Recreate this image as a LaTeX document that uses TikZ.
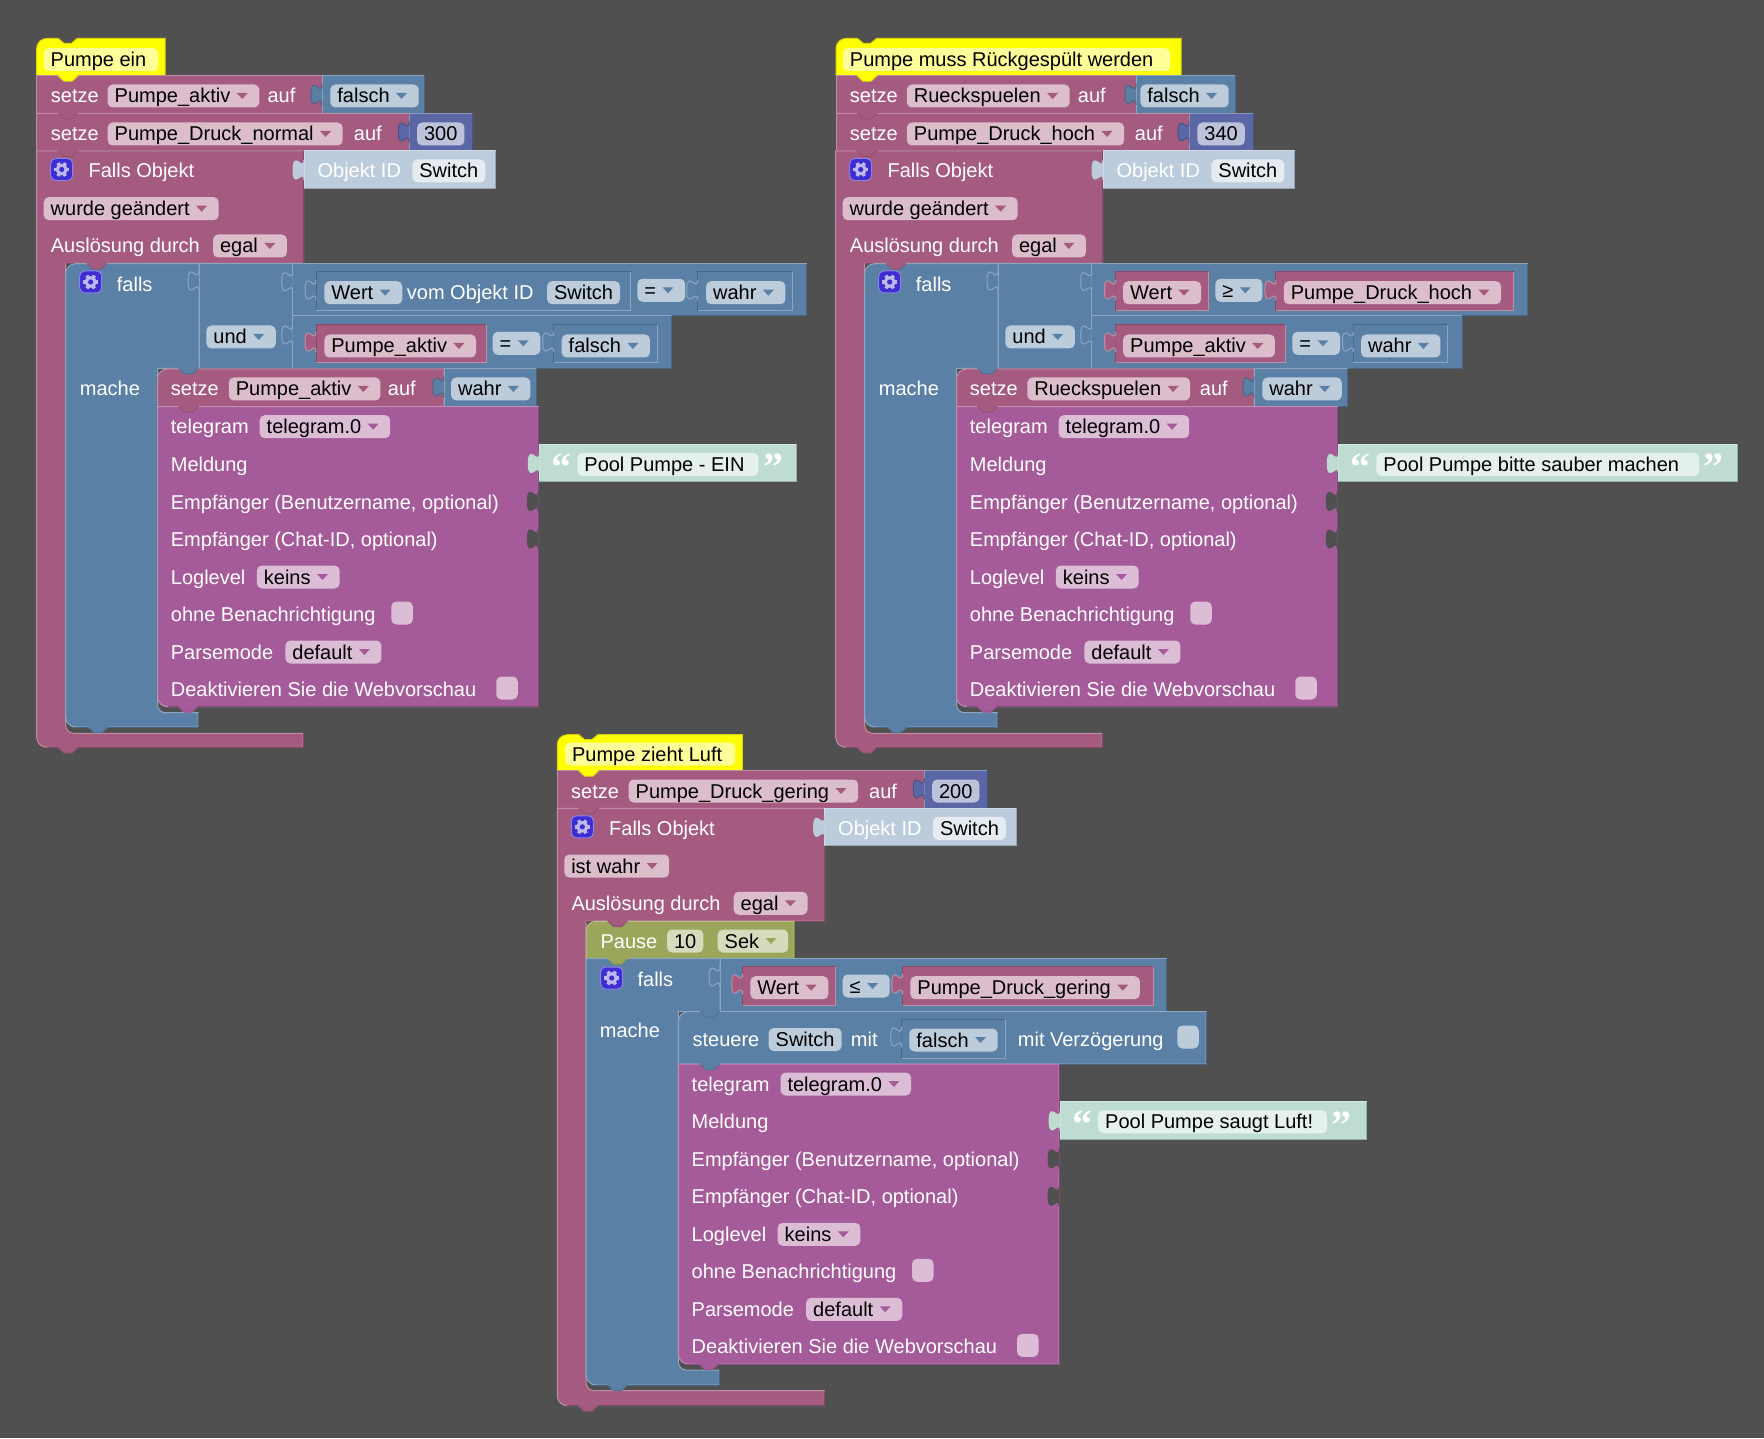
\documentclass[tikz,border=0pt]{standalone}
\usepackage{fontspec}
\setmainfont{Liberation Sans}
\newfontfamily\quotefont{Liberation Serif}
\usetikzlibrary{calc}

\definecolor{bgdark}{HTML}{505050}
\definecolor{blkcrimson}{HTML}{A55B80}
\definecolor{slateb}{HTML}{5B80A5}
\definecolor{numblue}{HTML}{5B67A5}
\definecolor{tele}{HTML}{A55B99}
\definecolor{oliveb}{HTML}{9CA65B}
\definecolor{hatyel}{HTML}{FFFF00}
\definecolor{idblue}{HTML}{BDCCDC}
\definecolor{strgreen}{HTML}{BFDCD1}
\definecolor{gearbox}{HTML}{3D2DD3}
\definecolor{gearcol}{HTML}{BDB9EE}
\definecolor{tippk}{HTML}{A55B80}
\definecolor{tipbl}{HTML}{5B80A5}
\definecolor{tipvi}{HTML}{A55B99}
\definecolor{tipol}{HTML}{9CA65B}

\tikzset{
  fldbase/.style={rounded corners=2.5pt, inner xsep=3.5pt, inner ysep=1pt, minimum height=11.5pt,
    text height=8pt, text depth=1pt, text=black, anchor=west, yshift=-.5pt},
  fldpk/.style={fldbase, fill=blkcrimson!40!white},
  fldbl/.style={fldbase, fill=slateb!40!white},
  fldnu/.style={fldbase, fill=numblue!40!white},
  fldvi/.style={fldbase, fill=tele!40!white},
  fldol/.style={fldbase, fill=oliveb!40!white},
  fldid/.style={fldbase, fill=idblue!40!white},
  fldst/.style={fldbase, fill=strgreen!40!white},
  fldye/.style={fldbase, fill=hatyel!40!white},
  lbl/.style={anchor=west, inner sep=0pt, text height=8pt, text depth=1pt, text=white, yshift=-.5pt, xshift=-.25pt},
  chkbox/.style={minimum width=10.75pt, minimum height=11.5pt, inner sep=0pt, rounded corners=2.5pt},
  quotemark/.style={inner sep=0pt, text=white, font=\quotefont\bfseries\fontsize{20pt}{20pt}\selectfont},
  blockcr/.style={fill=blkcrimson, draw=blkcrimson!70!white, line width=.5pt},
  blockbl/.style={fill=slateb, draw=slateb!70!white, line width=.5pt},
  edgecr/.style={draw=blkcrimson!80!black, line width=.5pt},
  edgebl/.style={draw=slateb!80!black, line width=.5pt}
}

% dropdown field with its small triangle
\newcommand{\ddf}[5]{
  \node[fld#1] (#2) at (#3,#4) {#5\kern11pt};
  \fill[tip#1] ($(#2.east)+(-23,-3)$) -- ++(11,0) -- ++(-5.5,6) -- cycle;
}
\newcommand{\plainf}[5]{\node[fld#1] (#2) at (#3,#4) {#5};}
% plain block with light top and left edge
\newcommand{\blk}[5]{
  \fill[#1] (#2,#3) rectangle (#4,#5);
  \draw[#1!70!white, line width=.5pt] (#2,#5) -- (#2,#3) -- (#4,#3);
  \draw[#1!80!black, line width=.5pt] (#4,#3) -- (#4,#5) -- (#2,#5);
}
% same with round top left corner
\newcommand{\rblk}[5]{
  \draw[fill=#1, draw=#1!70!white, line width=.5pt] (#2,#5) -- (#2,#3+10) arc[start angle=180, end angle=270, radius=10] -- (#4,#3) -- (#4,#5) -- cycle;
  \draw[#1!80!black, line width=.5pt] (#4,#3) -- (#4,#5) -- (#2,#5);
}
% value block sitting in a socket
\newcommand{\inset}[5]{
  \fill[#1] (#2,#3) rectangle (#4,#5);
  \draw[#1!80!black, line width=.5pt] (#2,#5) -- (#2,#3) -- (#4,#3);
  \draw[#1!70!white, line width=.5pt] (#4,#3) -- (#4,#5) -- (#2,#5);
}
\newcommand{\puzz}[4]{
  \path[fill=#1, draw=#2, line width=.5pt] (#3,#4-10.3) .. controls (#3,#4+3.4) and (#3-11,#4-21.3) .. (#3-11,#4)
    .. controls (#3-11,#4+21.3) and (#3,#4-3.4) .. (#3,#4+10.3);
}
\newcommand{\tabd}[3]{
  \fill[#1] (#2,#3-1) -- (#2+6,#3+5.5) -- (#2+14,#3+5.5) -- (#2+20,#3-1) -- cycle;
  \draw[#1!90!black, line width=.5pt] (#2,#3) -- (#2+6,#3+5.5) -- (#2+14,#3+5.5) -- (#2+20,#3);
}
\newcommand{\hatblk}[4]{
  \draw[fill=hatyel, draw=hatyel!85!black, line width=.5pt] (#1,#4) -- (#1,#2+10) arc[start angle=180, end angle=270, radius=10]
    -- (#1+21.5,#2) -- (#1+27.5,#2+5) -- (#1+34.5,#2+5) -- (#1+40.5,#2) -- (#3,#2) -- (#3,#4) -- cycle;
}
\newcommand{\gearicon}[2]{
  \draw[fill=gearbox, draw=gearbox!60!white, line width=.5pt, rounded corners=2.5pt] (#1-11,#2-11) rectangle (#1+11,#2+11);
  \foreach \a in {0,60,...,300} {\draw[gearcol, line width=1.7pt] (#1,#2) -- +(\a:7.5);}
  \fill[gearcol] (#1,#2) circle (5.8);
  \fill[gearbox] (#1,#2) circle (2.6);
}

% head of the object trigger
\newcommand{\fallshead}[1]{
  \blk{idblue}{304}{151}{495.7}{188.5}
  \puzz{idblue}{idblue}{304}{170}
  \gearicon{61.7}{169.5}
  \node[lbl] (fallsobj) at (88.7,170) {Falls Objekt};
  \node[lbl] (objid) at (317.7,170) {Objekt ID};
  \plainf{id}{swid}{412}{170}{Switch}
  \ddf{pk}{event}{43.3}{207.7}{#1}
  \node[lbl] (trig) at (51,245) {Auslösung durch};
  \ddf{pk}{trigval}{212.7}{245}{egal}
}
% telegram block, all rows
\newcommand{\telegramblk}{
  \draw[fill=tele, draw=tele!70!white, line width=.5pt] (157.5,406.7) -- (538.3,406.7) -- (538.3,706.7) -- (167.5,706.7)
    arc[start angle=90, end angle=180, radius=10] -- cycle;
  \draw[tele!80!black, line width=.5pt] (538.3,406.7) -- (538.3,706.7) -- (167.5,706.7);
  \node[lbl] (tg) at (171,425.7) {telegram};
  \ddf{vi}{tginst}{259.3}{425.7}{telegram.0}
  \node[lbl] (msg) at (171,463.5) {Meldung};
  \node[lbl] (userlbl) at (171,501) {Empfänger (Benutzername, optional)};
  \node[lbl] (chatlbl) at (171,538.3) {Empfänger (Chat-ID, optional)};
  \puzz{bgdark}{bgdark}{538.3}{501.5}
  \puzz{bgdark}{bgdark}{538.3}{539}
  \node[lbl] (loglbl) at (171,576) {Loglevel};
  \ddf{vi}{logval}{256.5}{576}{keins}
  \node[lbl] (silentlbl) at (171,613.3) {ohne Benachrichtigung};
  \node[chkbox, fill=tele!40!white] (silentbox) at (402,613) {};
  \node[lbl] (parselbl) at (171,651) {Parsemode};
  \ddf{vi}{parseval}{285}{651}{default}
  \node[lbl] (webviewlbl) at (171,688.3) {Deaktivieren Sie die Webvorschau};
  \node[chkbox, fill=tele!40!white] (webviewbox) at (507,688) {};
  \tabd{tele}{178}{706.7}
}
\newcommand{\strblk}[3]{
  \blk{strgreen}{539.3}{444.3}{#2}{481.7}
  \puzz{strgreen}{strgreen}{539.3}{463.5}
  \node[quotemark] (#1l) at (561.5,467) {“};
  \plainf{st}{#1}{577}{463.5}{#3\kern3.5pt}
  \node[quotemark, anchor=west] (#1r) at ($(#1.east)+(4,3)$) {”};
}
% both top groups share this frame
\newcommand{\pumpframe}[1]{
  \draw[blockcr] (36.7,151) -- (303.7,151) -- (303.7,263.5) -- (65.7,263.5) -- (65.7,725.3) arc[start angle=180, end angle=90, radius=8]
    -- (303.2,733.3) -- (303.2,747.3) -- (46.7,747.3) arc[start angle=90, end angle=180, radius=10] -- cycle;
  \draw[edgecr] (303.7,151) -- (303.7,263.5) -- (65.7,263.5);
  \draw[edgecr] (46.7,747.3) -- (303.2,747.3) -- (303.2,733.3);
  \draw[blockbl] (65.7,273.7) arc[start angle=180, end angle=270, radius=10] -- (199,263.7) -- (199,368.5) -- (157.5,368.5)
    -- (157.5,704.7) arc[start angle=180, end angle=90, radius=8] -- (198.2,712.7) -- (198.2,727) -- (75.7,727)
    arc[start angle=90, end angle=180, radius=10] -- cycle;
  \draw[edgebl] (75.7,727) -- (198.2,727) -- (198.2,712.7);
  \fallshead{#1}
  \gearicon{90.7}{282}
  \node[lbl] (fallslbl) at (117,284) {falls};
  \node[lbl] (machelbl) at (80,388) {mache};
  \blk{slateb}{199}{263.7}{292.7}{368.5}
  \puzz{slateb}{slateb!70!white}{199}{281}
  \ddf{bl}{undop}{206}{336}{und}
  \tabd{blkcrimson}{87}{263.5}
  \tabd{blkcrimson}{58}{747.3}
  \tabd{slateb}{88}{727}
}

\begin{document}
\begin{tikzpicture}[x=.5pt, y=-.5pt]
\useasboundingbox (0,0) rectangle (1764,1438);
\fill[bgdark] (0,0) rectangle (1764,1438);

% Pumpe ein
\begin{scope}[name prefix=a-]
\hatblk{36.7}{38.5}{165}{75.7}
\plainf{ye}{hat}{43.3}{58.7}{Pumpe ein\kern2.5pt}
\blk{blkcrimson}{36.7}{75.7}{322}{113.3}
\blk{slateb}{322}{75.7}{424}{113.3}
\puzz{slateb}{slateb!80!black}{322}{94.5}
\node[lbl] (setze1) at (51,95) {setze};
\ddf{pk}{var1}{107.3}{95}{Pumpe\_aktiv}
\node[lbl] (auf1) at (267.7,95) {auf};
\ddf{bl}{val1}{330}{95}{falsch}
\blk{blkcrimson}{36.7}{113.3}{409.3}{151}
\blk{numblue}{409.3}{113.3}{472}{151}
\puzz{numblue}{numblue!80!black}{409.3}{132}
\node[lbl] (setze2) at (51,133) {setze};
\ddf{pk}{var2}{107.3}{133}{Pumpe\_Druck\_normal}
\node[lbl] (auf2) at (354,133) {auf};
\plainf{nu}{val2}{416.7}{133}{300}
\pumpframe{wurde geändert}

\blk{slateb}{292.7}{263.7}{806.7}{316}
\blk{slateb}{292.7}{316}{671.7}{368.5}
\puzz{slateb}{slateb!70!white}{292.7}{281.7}
\puzz{slateb}{slateb!70!white}{292.7}{335}
\inset{slateb}{316}{271.7}{630.7}{310.7}
\puzz{slateb}{slateb!70!white}{316}{290}
\ddf{bl}{wert}{324}{291.7}{Wert}
\node[lbl] (vomobj) at (407,291.7) {vom Objekt ID};
\plainf{bl}{swa}{546.7}{291.7}{Switch}
\ddf{bl}{eq1}{637}{289.3}{=}
\inset{slateb}{697.7}{271.7}{792.7}{310.7}
\puzz{slateb}{slateb!70!white}{697.7}{290}
\ddf{bl}{wahr1}{705.7}{291.7}{wahr}
\inset{blkcrimson}{316}{325}{486}{363}
\puzz{blkcrimson}{blkcrimson!70!white}{316}{342}
\ddf{pk}{aktiv}{324}{345}{Pumpe\_aktiv}
\ddf{bl}{eq2}{492.3}{342.3}{=}
\inset{slateb}{553.7}{325}{657}{363}
\puzz{slateb}{slateb!70!white}{553.7}{342}
\ddf{bl}{falsch2}{561.3}{345}{falsch}

\rblk{blkcrimson}{157.5}{369}{444}{406.7}
\blk{slateb}{444}{369}{536.3}{406.7}
\puzz{slateb}{slateb!80!black}{444}{387}
\node[lbl] (setze3) at (171,388) {setze};
\ddf{pk}{var3}{228.4}{388}{Pumpe\_aktiv}
\node[lbl] (auf3) at (388,388) {auf};
\ddf{bl}{val3}{450.7}{388}{wahr}
\telegramblk
\strblk{msgein}{796.7}{Pool Pumpe - EIN}
\tabd{slateb}{178.5}{368.5}
\tabd{blkcrimson}{178.5}{406.7}
\tabd{hatyel}{58}{75.7}
\tabd{blkcrimson}{58}{113.3}
\tabd{blkcrimson}{58}{151}
\end{scope}

% Pumpe muss Rückgespült werden
\hatblk{836}{38.5}{1181}{75.7}
\plainf{ye}{hatb}{842.5}{58.7}{Pumpe muss Rückgespült werden\kern5pt}
\blk{blkcrimson}{836}{75.7}{1136}{113.3}
\blk{slateb}{1136}{75.7}{1235}{113.3}
\puzz{slateb}{slateb!80!black}{1136}{94.5}
\node[lbl] (setzeb1) at (850,95) {setze};
\ddf{pk}{varb1}{906.5}{95}{Rueckspuelen}
\node[lbl] (aufb1) at (1078,95) {auf};
\ddf{bl}{valb1}{1140}{95}{falsch}
\blk{blkcrimson}{836}{113.3}{1189}{151}
\blk{numblue}{1189}{113.3}{1253}{151}
\puzz{numblue}{numblue!80!black}{1189}{132}
\node[lbl] (setzeb2) at (850,133) {setze};
\ddf{pk}{varb2}{906.5}{133}{Pumpe\_Druck\_hoch}
\node[lbl] (aufb2) at (1135,133) {auf};
\plainf{nu}{valb2}{1197}{133}{340}
\begin{scope}[shift={(799,0)}, name prefix=b-]
\pumpframe{wurde geändert}
\end{scope}

\blk{slateb}{1091.7}{263.7}{1527.6}{316}
\blk{slateb}{1091.7}{316}{1462}{368.5}
\puzz{slateb}{slateb!70!white}{1091.7}{281.7}
\puzz{slateb}{slateb!70!white}{1091.7}{335}
\inset{blkcrimson}{1115.5}{271.7}{1208.6}{310.7}
\puzz{blkcrimson}{blkcrimson!70!white}{1115.5}{290}
\ddf{pk}{wertb}{1122.8}{291.7}{Wert}
\ddf{bl}{geb}{1215}{289.3}{≥}
\inset{blkcrimson}{1275.9}{271.7}{1513.8}{310.7}
\puzz{blkcrimson}{blkcrimson!70!white}{1275.9}{290}
\ddf{pk}{hochb}{1283.4}{291.7}{Pumpe\_Druck\_hoch}
\inset{blkcrimson}{1115.5}{325}{1285}{363}
\puzz{blkcrimson}{blkcrimson!70!white}{1115.5}{342}
\ddf{pk}{aktivb}{1122.8}{345}{Pumpe\_aktiv}
\ddf{bl}{eqb}{1292}{342.3}{=}
\inset{slateb}{1353.4}{325}{1447.6}{363}
\puzz{slateb}{slateb!70!white}{1353.4}{342}
\ddf{bl}{wahrb}{1360.7}{345}{wahr}

\rblk{blkcrimson}{956.5}{369}{1254}{406.7}
\blk{slateb}{1254}{369}{1347.6}{406.7}
\puzz{slateb}{slateb!80!black}{1254}{387}
\node[lbl] (setzeb3) at (970,388) {setze};
\ddf{pk}{varb3}{1027}{388}{Rueckspuelen}
\node[lbl] (aufb3) at (1200,388) {auf};
\ddf{bl}{valb3}{1262}{388}{wahr}
\begin{scope}[shift={(799,0)}, name prefix=b-]
\telegramblk
\strblk{msgrein}{938}{Pool Pumpe bitte sauber machen\kern3pt}
\tabd{slateb}{178.5}{368.5}
\tabd{blkcrimson}{178.5}{406.7}
\tabd{hatyel}{58}{75.7}
\tabd{blkcrimson}{58}{113.3}
\tabd{blkcrimson}{58}{151}
\end{scope}

% Pumpe zieht Luft
\hatblk{557.3}{734.7}{742.3}{770.7}
\plainf{ye}{hatc}{564.7}{753}{Pumpe zieht Luft\kern3pt}
\blk{blkcrimson}{557.3}{770.7}{924.3}{808.3}
\blk{numblue}{924.3}{770.7}{987.3}{808.3}
\puzz{numblue}{numblue!80!black}{924.3}{789}
\node[lbl] (setzec1) at (571.3,790) {setze};
\ddf{pk}{varc1}{628.3}{790}{Pumpe\_Druck\_gering}
\node[lbl] (aufc1) at (869.3,790) {auf};
\plainf{nu}{valc1}{931.7}{790}{200}

\draw[blockcr] (557.3,808.3) -- (824.7,808.3) -- (824.7,921) -- (586,921) -- (586,1382.7) arc[start angle=180, end angle=90, radius=8]
  -- (824.3,1390.7) -- (824.3,1405.7) -- (567.3,1405.7) arc[start angle=90, end angle=180, radius=10] -- cycle;
\draw[edgecr] (824.7,808.3) -- (824.7,921) -- (586,921);
\draw[edgecr] (567.3,1405.7) -- (824.3,1405.7) -- (824.3,1390.7);
\begin{scope}[shift={(520.6,657.3)}, name prefix=c-]
\fallshead{ist wahr}
\end{scope}

\rblk{oliveb}{586}{921.3}{794}{958.7}
\node[lbl] (pauselbl) at (600.7,940) {Pause};
\plainf{ol}{pausen}{666.7}{940}{10}
\ddf{ol}{pauseu}{717.3}{940}{Sek}

\draw[blockbl] (586,958.7) -- (720,958.7) -- (720,1011.7) -- (678.3,1011.7) -- (678.3,1362) arc[start angle=180, end angle=90, radius=8]
  -- (719.3,1370) -- (719.3,1385) -- (596,1385) arc[start angle=90, end angle=180, radius=10] -- cycle;
\draw[edgebl] (596,1385) -- (719.3,1385) -- (719.3,1370);
\gearicon{611.7}{978}
\node[lbl] (fallsc) at (637.7,978.3) {falls};
\node[lbl] (machec) at (600,1029) {mache};
\blk{slateb}{720}{958.7}{1166.6}{1011.7}
\puzz{slateb}{slateb!70!white}{720}{977}
\inset{blkcrimson}{742.7}{966.7}{835.7}{1005}
\puzz{blkcrimson}{blkcrimson!70!white}{742.7}{984}
\ddf{pk}{wertc}{750}{986.7}{Wert}
\ddf{bl}{lec}{842.3}{985}{≤}
\inset{blkcrimson}{902.7}{966.7}{1153}{1005}
\puzz{blkcrimson}{blkcrimson!70!white}{902.7}{984}
\ddf{pk}{geringc}{910}{986.7}{Pumpe\_Druck\_gering}

\rblk{slateb}{678.3}{1011.7}{1206}{1064}
\node[lbl] (steuere) at (692.7,1038.5) {steuere};
\plainf{bl}{swc}{768.3}{1038.5}{Switch}
\node[lbl] (mitc) at (851,1038.5) {mit};
\inset{slateb}{901.7}{1019.3}{1005.7}{1058.3}
\puzz{slateb}{slateb!70!white}{901.7}{1037}
\ddf{bl}{falschc}{909}{1039}{falsch}
\node[lbl] (delayc) at (1018,1038.5) {mit Verzögerung};
\node[chkbox, fill=slateb!40!white] (delaybox) at (1188,1037) {};
\begin{scope}[shift={(520.8,657.3)}, name prefix=c-]
\telegramblk
\strblk{msgluft}{846}{Pool Pumpe saugt Luft!}
\end{scope}
\tabd{slateb}{699.8}{1011.7}
\tabd{slateb}{699.8}{1064}
\tabd{hatyel}{578.8}{770.7}
\tabd{blkcrimson}{578.8}{808.3}
\tabd{blkcrimson}{607.6}{921}
\tabd{oliveb}{607.6}{958.7}
\tabd{blkcrimson}{578}{1405.7}
\tabd{slateb}{607.6}{1385}
\end{tikzpicture}
\end{document}
